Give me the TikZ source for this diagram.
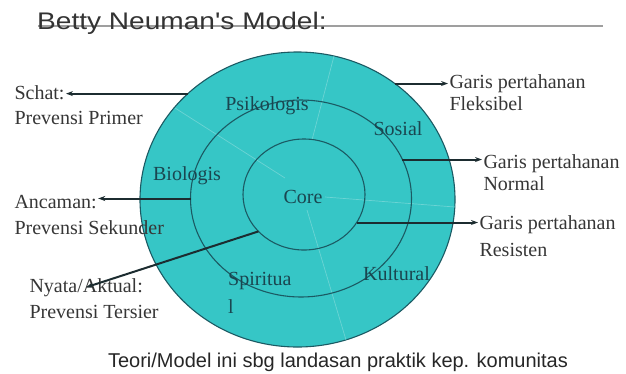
\documentclass[tikz,border=0pt]{standalone}
\usepackage{fontspec}
\setmainfont{Liberation Serif}
\newfontfamily\headfont{Liberation Sans}
\usetikzlibrary{positioning, arrows.meta, shapes.geometric}
\definecolor{ringfill}{HTML}{36C6C6}
\definecolor{ringline}{HTML}{1B5A63}
\definecolor{seamline}{HTML}{6CD4D4}
\definecolor{ptrcol}{HTML}{1C2C30}
\definecolor{sidecol}{HTML}{363636}
\definecolor{partcol}{HTML}{1A4650}

\begin{document}
\begin{tikzpicture}[x=1pt, y=-1pt, >={Stealth[length=7pt,width=5pt]},
  ring/.style={ellipse, draw=ringline, line width=1.1pt, inner sep=0pt, outer sep=0pt},
  seam/.style={draw=seamline, line width=0.7pt},
  pointer/.style={->, draw=ptrcol, line width=2pt},
  side/.style={font=\fontsize{20}{25}\selectfont, text=sidecol, inner sep=0pt, outer sep=1.5pt},
  part/.style={font=\fontsize{20}{28}\selectfont, text=partcol, inner sep=0pt, align=left}]
  \useasboundingbox (0,0) rectangle (626,373);

  % title
  \draw[gray!75, line width=1.2pt] (38,26) -- (603,26);
  \node[anchor=base west, inner sep=0pt, text=black!80] (title) at (37,29)
    {\headfont\fontsize{24}{28}\selectfont\scalebox{1.17}[1]{Betty Neuman's Model:}};

  % rings
  \node[ring, fill=ringfill, minimum width=315, minimum height=295] (flex) at (297.5,199.5) {};
  \draw[seam] (175,108) -- (285,178);
  \draw[seam] (312,140) -- (334,56);
  \draw[seam] (325,197) -- (455,207);
  \draw[seam] (307,210) -- (346,340);
  \node[ring, minimum width=221, minimum height=197] (norm) at (301,198.5) {};
  \node[ring, minimum width=122, minimum height=111] (res) at (304,194.5) {};

  % parts
  \node[part, anchor=base] (psi) at (267,110) {Psikologis};
  \node[part, anchor=base] (sos) at (398,135) {Sosial};
  \node[part, anchor=base] (bio) at (187,180) {Biologis};
  \node[part, anchor=base] (core) at (303,203) {Core};
  \node[part, anchor=north west] (spir) at (228,272) {Spiritua\\l};
  \node[part, anchor=base west] (kult) at (363,280) {Kultural};

  % left labels
  \node[side, anchor=base west] (schat) at (13,99) {Schat:};
  \node[side, below=25pt of schat.base west, anchor=base west] (primer) {Prevensi Primer};
  \node[side, anchor=base west] (ancaman) at (13,208) {Ancaman:};
  \node[side, below=26pt of ancaman.base west, anchor=base west] (sekunder) {Prevensi Sekunder};
  \node[side, anchor=base west] (nyata) at (28,292) {Nyata/Aktual:};
  \node[side, below=26pt of nyata.base west, anchor=base west] (tersier) {Prevensi Tersier};

  % right labels
  \node[side, anchor=base west] (fleks) at (448,88) {Garis pertahanan};
  \node[side, below=22pt of fleks.base west, anchor=base west] (fleksibel) {Fleksibel};
  \node[side, anchor=base west] (normal) at (482,168) {Garis pertahanan};
  \node[side, below=22pt of normal.base west, anchor=base west] (normal2) {Normal};
  \node[side, anchor=base west] (resisten) at (478,229) {Garis pertahanan};
  \node[side, below=27pt of resisten.base west, anchor=base west] (resisten2) {Resisten};

  % pointers
  \draw[pointer] (flex.136) -- (flex.136 -| schat.east);
  \draw[pointer] (norm.west) -- (norm.west -| ancaman.east);
  \draw[pointer] (res.219) -- (nyata.center);
  \draw[pointer] (flex.50) -- (flex.50 -| fleks.west);
  \draw[pointer] (norm.21) -- (norm.21 -| normal.west);
  \draw[pointer] (res.332) -- (res.332 -| resisten.west);

  % caption
  \node[anchor=base, inner sep=0pt, text=black!85] (caption) at (338,367)
    {\headfont\fontsize{20}{24}\selectfont Teori/Model ini sbg landasan praktik kep. komunitas};
\end{tikzpicture}
\end{document}
